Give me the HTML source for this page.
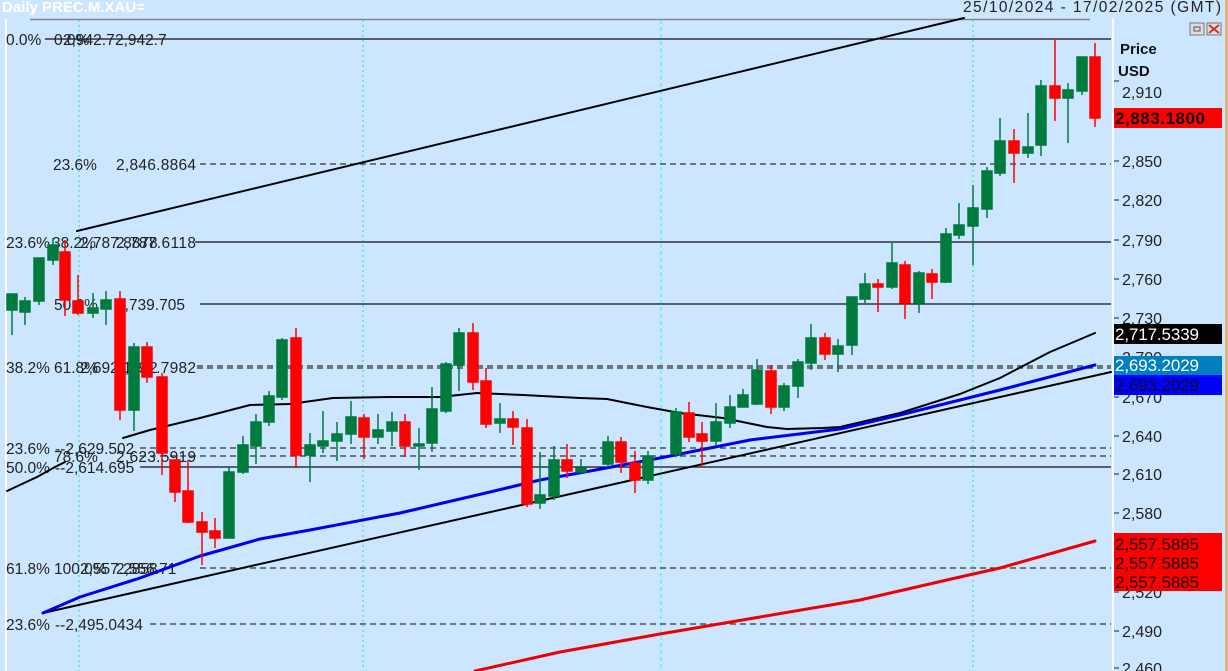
<!DOCTYPE html>
<html><head><meta charset="utf-8"><style>
html,body{margin:0;padding:0;background:#cce6ff;}
svg{display:block;font-family:"Liberation Sans",sans-serif;}
</style></head><body>
<svg width="1228" height="671" viewBox="0 0 1228 671" xmlns="http://www.w3.org/2000/svg">
<rect x="0" y="0" width="1228" height="671" fill="#cce6ff"/>
<line x1="6" y1="19" x2="6" y2="671" stroke="#ffffff" stroke-width="2"/>
<line x1="30" y1="19.5" x2="1090" y2="19.5" stroke="#888" stroke-width="1.5"/>
<line x1="1113" y1="18" x2="1113" y2="671" stroke="#ffffff" stroke-width="2"/>
<line x1="1226.5" y1="0" x2="1226.5" y2="671" stroke="#f0a040" stroke-width="2"/>
<text x="2" y="12" font-size="15" font-weight="bold" fill="#ffffff">Daily PREC.M.XAU=</text>
<text x="963" y="12" font-size="15.5" fill="#222" textLength="258">25/10/2024 - 17/02/2025 (GMT)</text>
<rect x="1190" y="23" width="14" height="12" fill="#ddd" stroke="#777"/><rect x="1194" y="27" width="6" height="4" fill="none" stroke="#555"/>
<rect x="1207" y="23" width="14" height="12" fill="#ddd" stroke="#777"/><path d="M1209 25 L1219 33 M1219 25 L1209 33" stroke="#c33" stroke-width="2"/>
<g stroke="#2ee0a0" stroke-width="1" stroke-dasharray="2,3">
<line x1="79" y1="20" x2="79" y2="671"/><line x1="363" y1="20" x2="363" y2="671"/><line x1="973" y1="20" x2="973" y2="671"/>
</g>
<line x1="661" y1="20" x2="661" y2="671" stroke="#33eeee" stroke-width="1" stroke-dasharray="4,3"/>
<g stroke="#111" stroke-width="1.2">
<line x1="45" y1="39" x2="1111" y2="39"/>
<line x1="195" y1="242" x2="1111" y2="242"/>
<line x1="200" y1="304" x2="1111" y2="304"/>
<line x1="140" y1="467" x2="1111" y2="467"/>
</g>
<g stroke="#333" stroke-width="1.3" stroke-dasharray="6,4">
<line x1="200" y1="164" x2="1111" y2="164"/>
<line x1="197" y1="366" x2="1111" y2="366"/>
<line x1="197" y1="368" x2="1111" y2="368"/>
<line x1="140" y1="448" x2="1111" y2="448"/>
<line x1="140" y1="456" x2="1111" y2="456"/>
<line x1="200" y1="568" x2="1111" y2="568"/>
<line x1="150" y1="624" x2="1111" y2="624"/>
</g>
<g fill="#222" font-size="15.5">
<text x="6" y="45">0.0%</text><text x="54" y="45">0.0%</text><text x="63" y="45">2,942.7</text><text x="115" y="45">2,942.7</text>
<text x="53" y="170">23.6%</text><text x="116" y="170" textLength="80">2,846.8864</text>
<text x="6" y="248">23.6%</text><text x="52" y="248">38.2%</text><text x="80" y="248">2,787.8878</text><text x="116" y="248" textLength="80">2,787.6118</text>
<text x="54" y="310">50.0%</text><text x="116" y="310">2,739.705</text>
<text x="6" y="373">38.2%</text><text x="54" y="373">61.8%</text><text x="80" y="373">2,692.1042</text><text x="116" y="373" textLength="80">2,691.7982</text>
<text x="6" y="454">23.6%</text><text x="55" y="454">--2,629.502</text>
<text x="54" y="462">78.6%</text><text x="116" y="462" textLength="80">2,623.5919</text>
<text x="6" y="473">50.0%</text><text x="55" y="473">--2,614.695</text>
<text x="6" y="574">61.8%</text><text x="54" y="574">100.0%</text><text x="80" y="574">2,557.2858</text><text x="116" y="574">2,556.71</text>
<text x="6" y="630">23.6%</text><text x="55" y="630">--2,495.0434</text>
</g>
<g fill="none" stroke-linejoin="round" stroke-linecap="round">
<line x1="77" y1="231" x2="964" y2="18" stroke="#000" stroke-width="2"/>
<line x1="43" y1="613" x2="1111" y2="372" stroke="#000" stroke-width="2"/>
<polyline stroke="#000" stroke-width="2" points="7,491 37,477 55,467 65,462"/>
<polyline stroke="#000" stroke-width="2" points="123,438 150,430 200,418 250,405 290,404 333,398 390,397 440,397 477,393 523,395 580,398 607,399 647,407 680,413 723,418 767,427 787,429 823,428 840,427 900,413 960,394 1000,378 1050,352 1095,333"/>
<polyline stroke="#0000ee" stroke-width="3" points="43,613 80,597 140,578 200,556 260,539 310,530 400,513 490,492 540,480 590,471 660,458 750,440 840,429 900,415 1000,390 1095,365"/>
<polyline stroke="#ee0000" stroke-width="3" points="475,671 560,652 660,634 760,617 860,600 960,577 1000,568 1095,541"/>
</g>
<g stroke-width="1.5">
<g stroke="#007a3d" fill="#007a3d">
<line x1="12" y1="295" x2="12" y2="335"/><rect x="7" y="294" width="10" height="16"/>
<line x1="25" y1="297" x2="25" y2="325"/><rect x="20" y="301" width="10" height="11"/>
<line x1="39" y1="258" x2="39" y2="305"/><rect x="34" y="258" width="10" height="43"/>
<line x1="53" y1="238" x2="53" y2="265"/><rect x="48" y="245" width="10" height="15"/>
<line x1="93" y1="293" x2="93" y2="318"/><rect x="88" y="308" width="10" height="5"/>
<line x1="106" y1="291" x2="106" y2="325"/><rect x="101" y="300" width="10" height="9"/>
<line x1="134" y1="343" x2="134" y2="431"/><rect x="129" y="347" width="10" height="63"/>
<line x1="229" y1="467" x2="229" y2="538"/><rect x="224" y="472" width="10" height="66"/>
<line x1="243" y1="436" x2="243" y2="474"/><rect x="238" y="445" width="10" height="27"/>
<line x1="256" y1="414" x2="256" y2="464"/><rect x="251" y="422" width="10" height="24"/>
<line x1="269" y1="391" x2="269" y2="426"/><rect x="264" y="396" width="10" height="26"/>
<line x1="282" y1="338" x2="282" y2="400"/><rect x="277" y="340" width="10" height="57"/>
<line x1="310" y1="433" x2="310" y2="482"/><rect x="305" y="445" width="10" height="10"/>
<line x1="323" y1="411" x2="323" y2="453"/><rect x="318" y="441" width="10" height="5"/>
<line x1="337" y1="422" x2="337" y2="461"/><rect x="332" y="434" width="10" height="7"/>
<line x1="351" y1="401" x2="351" y2="444"/><rect x="346" y="417" width="10" height="17"/>
<line x1="378" y1="414" x2="378" y2="444"/><rect x="373" y="430" width="10" height="7"/>
<line x1="392" y1="412" x2="392" y2="446"/><rect x="387" y="422" width="10" height="9"/>
<line x1="419" y1="428" x2="419" y2="470"/><rect x="414" y="444" width="10" height="2"/>
<line x1="432" y1="387" x2="432" y2="452"/><rect x="427" y="409" width="10" height="34"/>
<line x1="446" y1="362" x2="446" y2="413"/><rect x="441" y="364" width="10" height="47"/>
<line x1="459" y1="328" x2="459" y2="391"/><rect x="454" y="333" width="10" height="32"/>
<line x1="500" y1="403" x2="500" y2="433"/><rect x="495" y="419" width="10" height="4"/>
<line x1="540" y1="452" x2="540" y2="509"/><rect x="535" y="495" width="10" height="8"/>
<line x1="554" y1="446" x2="554" y2="500"/><rect x="549" y="460" width="10" height="36"/>
<line x1="581" y1="459" x2="581" y2="473"/><rect x="576" y="468" width="10" height="4"/>
<line x1="608" y1="436" x2="608" y2="467"/><rect x="603" y="442" width="10" height="22"/>
<line x1="648" y1="451" x2="648" y2="484"/><rect x="643" y="456" width="10" height="24"/>
<line x1="676" y1="408" x2="676" y2="457"/><rect x="671" y="412" width="10" height="42"/>
<line x1="716" y1="403" x2="716" y2="446"/><rect x="711" y="422" width="10" height="19"/>
<line x1="730" y1="395" x2="730" y2="428"/><rect x="725" y="407" width="10" height="16"/>
<line x1="743" y1="389" x2="743" y2="407"/><rect x="738" y="395" width="10" height="12"/>
<line x1="757" y1="359" x2="757" y2="405"/><rect x="752" y="370" width="10" height="34"/>
<line x1="784" y1="383" x2="784" y2="411"/><rect x="779" y="386" width="10" height="21"/>
<line x1="798" y1="359" x2="798" y2="398"/><rect x="793" y="362" width="10" height="24"/>
<line x1="811" y1="324" x2="811" y2="370"/><rect x="806" y="338" width="10" height="25"/>
<line x1="838" y1="339" x2="838" y2="372"/><rect x="833" y="346" width="10" height="8"/>
<line x1="852" y1="297" x2="852" y2="355"/><rect x="847" y="297" width="10" height="48"/>
<line x1="865" y1="273" x2="865" y2="303"/><rect x="860" y="284" width="10" height="15"/>
<line x1="892" y1="243" x2="892" y2="289"/><rect x="887" y="263" width="10" height="24"/>
<line x1="919" y1="271" x2="919" y2="313"/><rect x="914" y="273" width="10" height="30"/>
<line x1="946" y1="228" x2="946" y2="283"/><rect x="941" y="234" width="10" height="48"/>
<line x1="959" y1="203" x2="959" y2="239"/><rect x="954" y="225" width="10" height="10"/>
<line x1="973" y1="185" x2="973" y2="265"/><rect x="968" y="208" width="10" height="18"/>
<line x1="987" y1="167" x2="987" y2="218"/><rect x="982" y="171" width="10" height="38"/>
<line x1="1000" y1="118" x2="1000" y2="176"/><rect x="995" y="141" width="10" height="32"/>
<line x1="1028" y1="113" x2="1028" y2="158"/><rect x="1023" y="147" width="10" height="6"/>
<line x1="1041" y1="80" x2="1041" y2="156"/><rect x="1036" y="86" width="10" height="59"/>
<line x1="1068" y1="83" x2="1068" y2="143"/><rect x="1063" y="90" width="10" height="8"/>
<line x1="1082" y1="57" x2="1082" y2="95"/><rect x="1077" y="57" width="10" height="34"/>
</g>
<g stroke="#ff0000" fill="#ff0000">
<line x1="65" y1="240" x2="65" y2="316"/><rect x="60" y="252" width="10" height="48"/>
<line x1="78" y1="275" x2="78" y2="315"/><rect x="73" y="301" width="10" height="12"/>
<line x1="120" y1="291" x2="120" y2="420"/><rect x="115" y="299" width="10" height="111"/>
<line x1="147" y1="342" x2="147" y2="383"/><rect x="142" y="347" width="10" height="30"/>
<line x1="162" y1="373" x2="162" y2="475"/><rect x="157" y="377" width="10" height="76"/>
<line x1="175" y1="460" x2="175" y2="502"/><rect x="170" y="460" width="10" height="32"/>
<line x1="188" y1="460" x2="188" y2="523"/><rect x="183" y="491" width="10" height="31"/>
<line x1="202" y1="512" x2="202" y2="565"/><rect x="197" y="522" width="10" height="10"/>
<line x1="215" y1="518" x2="215" y2="548"/><rect x="210" y="531" width="10" height="7"/>
<line x1="296" y1="328" x2="296" y2="468"/><rect x="291" y="338" width="10" height="117"/>
<line x1="364" y1="414" x2="364" y2="459"/><rect x="359" y="418" width="10" height="19"/>
<line x1="405" y1="414" x2="405" y2="457"/><rect x="400" y="422" width="10" height="24"/>
<line x1="473" y1="323" x2="473" y2="390"/><rect x="468" y="333" width="10" height="49"/>
<line x1="486" y1="368" x2="486" y2="428"/><rect x="481" y="381" width="10" height="43"/>
<line x1="513" y1="411" x2="513" y2="445"/><rect x="508" y="419" width="10" height="8"/>
<line x1="527" y1="419" x2="527" y2="507"/><rect x="522" y="428" width="10" height="76"/>
<line x1="567" y1="444" x2="567" y2="478"/><rect x="562" y="460" width="10" height="11"/>
<line x1="621" y1="437" x2="621" y2="473"/><rect x="616" y="442" width="10" height="20"/>
<line x1="635" y1="451" x2="635" y2="493"/><rect x="630" y="463" width="10" height="17"/>
<line x1="689" y1="402" x2="689" y2="442"/><rect x="684" y="413" width="10" height="24"/>
<line x1="702" y1="422" x2="702" y2="467"/><rect x="697" y="434" width="10" height="7"/>
<line x1="771" y1="365" x2="771" y2="414"/><rect x="766" y="371" width="10" height="36"/>
<line x1="825" y1="333" x2="825" y2="360"/><rect x="820" y="338" width="10" height="16"/>
<line x1="878" y1="279" x2="878" y2="312"/><rect x="873" y="284" width="10" height="3"/>
<line x1="905" y1="261" x2="905" y2="319"/><rect x="900" y="265" width="10" height="38"/>
<line x1="932" y1="269" x2="932" y2="299"/><rect x="927" y="274" width="10" height="8"/>
<line x1="1014" y1="129" x2="1014" y2="183"/><rect x="1009" y="141" width="10" height="12"/>
<line x1="1055" y1="39" x2="1055" y2="121"/><rect x="1050" y="86" width="10" height="12"/>
<line x1="1095" y1="43" x2="1095" y2="127"/><rect x="1090" y="57" width="10" height="61"/>
</g>
</g>
<text x="1120" y="54" font-size="15" font-weight="bold" fill="#111">Price</text>
<text x="1118" y="76" font-size="15" font-weight="bold" fill="#111">USD</text>
<g fill="#222" font-size="16" stroke="#222">
<line x1="1114" y1="81" x2="1119" y2="81"/><text x="1122" y="98" stroke="none">2,910</text>
<line x1="1114" y1="161" x2="1119" y2="161"/><text x="1122" y="167" stroke="none">2,850</text>
<line x1="1114" y1="200" x2="1119" y2="200"/><text x="1122" y="206" stroke="none">2,820</text>
<line x1="1114" y1="240" x2="1119" y2="240"/><text x="1122" y="246" stroke="none">2,790</text>
<line x1="1114" y1="279" x2="1119" y2="279"/><text x="1122" y="285" stroke="none">2,760</text>
<line x1="1114" y1="318" x2="1119" y2="318"/><text x="1122" y="324" stroke="none">2,730</text>
<line x1="1114" y1="357" x2="1119" y2="357"/><text x="1122" y="363" stroke="none">2,700</text>
<line x1="1114" y1="397" x2="1119" y2="397"/><text x="1122" y="403" stroke="none">2,670</text>
<line x1="1114" y1="436" x2="1119" y2="436"/><text x="1122" y="442" stroke="none">2,640</text>
<line x1="1114" y1="474" x2="1119" y2="474"/><text x="1122" y="480" stroke="none">2,610</text>
<line x1="1114" y1="513" x2="1119" y2="513"/><text x="1122" y="519" stroke="none">2,580</text>
<line x1="1114" y1="592" x2="1119" y2="592"/><text x="1122" y="598" stroke="none">2,520</text>
<line x1="1114" y1="631" x2="1119" y2="631"/><text x="1122" y="637" stroke="none">2,490</text>
<line x1="1114" y1="668" x2="1119" y2="668"/><text x="1122" y="674" stroke="none">2,460</text>
</g>
<g font-size="17">
<rect x="1114" y="108" width="108" height="20" fill="#ff0000"/><text x="1115" y="124" font-weight="bold" fill="#111" textLength="90">2,883.1800</text>
<rect x="1114" y="324" width="108" height="20" fill="#000"/><text x="1115" y="340" fill="#fff" textLength="84">2,717.5339</text>
<rect x="1114" y="356" width="108" height="19" fill="#0080c0"/><text x="1115" y="371" fill="#fff" textLength="84">2,693.2029</text>
<rect x="1114" y="375" width="108" height="20" fill="#0000ff"/><text x="1115" y="391" fill="#111" textLength="84">2,693.2029</text>
<rect x="1114" y="533" width="108" height="58" fill="#ff0000"/>
<text x="1115" y="550" fill="#111" textLength="84">2,557.5885</text><text x="1115" y="569" fill="#111" textLength="84">2,557.5885</text><text x="1115" y="588" fill="#111" textLength="84">2,557.5885</text>
</g>
</svg>
</body></html>
